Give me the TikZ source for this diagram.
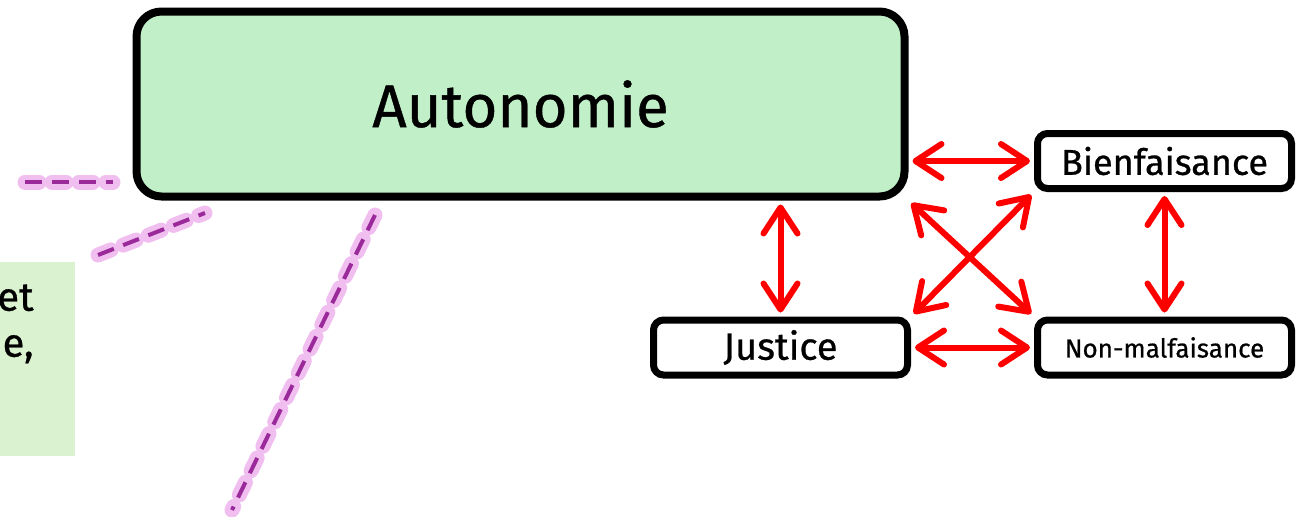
\documentclass[tikz,border=0pt]{standalone}
\usepackage{fontspec}
\setmainfont{Fira Sans}[FakeBold=0.7]
\usepackage{xcolor}
\usetikzlibrary{arrows.meta,positioning}
\definecolor{ethInk}{HTML}{000000}
\definecolor{ethGreen}{HTML}{C1F0C8}
\definecolor{ethPale}{HTML}{DAF2D0}
\definecolor{ethRed}{HTML}{FF0000}
\definecolor{ethPlum}{HTML}{9A2A9A}
\definecolor{ethGlow}{HTML}{E27FE2}
\tikzset{
  pbox/.style={rounded corners=5pt,draw=ethInk,line width=3.5pt,fill=white,
               align=center,minimum width=127pt,minimum height=27.5pt,inner sep=0pt},
  mainbox/.style={pbox,rounded corners=12.5pt,line width=4pt,fill=ethGreen,
               minimum width=384pt,minimum height=92.5pt,font=\fontsize{30}{34}\selectfont},
  link/.style={{Straight Barb[length=13pt,width=17pt,round]}-{Straight Barb[length=13pt,width=17pt,round]},
               draw=ethRed,line width=3pt,line cap=round,shorten <=2pt,shorten >=2pt},
  glow/.style={draw=ethGlow,opacity=0.5,line width=7.5pt,line cap=round,dash pattern=on 7pt off 6.5pt},
  trail/.style={draw=ethPlum,line width=2pt,dash pattern=on 8.5pt off 5pt},
}

\begin{document}
\begin{tikzpicture}[x=0.5pt,y=-0.5pt]
        \useasboundingbox (0,0) rectangle (1307,516);
        % cut-off note on the left
        \fill[ethPale] (0,262) rectangle (75,456);
        \node[anchor=north east,align=right,inner sep=0pt,font=\fontsize{20}{23}\selectfont] (note) at (34,284) {et\\e,};
        % dashed callout lines
        \foreach \a/\b in {{(25,182)}/{(113,182)},{(98,255)}/{(205,213)},{(375,215)}/{(232,510)}}{
          \draw[glow] \a -- \b;
          \draw[trail] \a -- \b;
        }
        \node[mainbox] (auto) at (520.5,104) {Autonomie};
        \node[pbox,font=\fontsize{18}{22}\selectfont] (bien) at (1164.5,161) {Bienfaisance};
        \node[pbox,font=\fontsize{19}{22}\selectfont] (just) at (780.5,347.5) {Justice};
        \node[pbox,font=\fontsize{13}{16}\selectfont] (nonm) at (1164.5,347.5) {Non-malfaisance};
        \draw[link] (auto.east |- bien.west) -- (bien.west);
        \draw[link] (just.north |- auto.south) -- (just.north);
        \draw[link] (bien.south) -- (nonm.north);
        \draw[link] (just.east) -- (nonm.west);
        \draw[link] (auto.south east) -- (nonm.north west);
        \draw[link] (bien.south west) -- (just.north east);
      \end{tikzpicture}
\end{document}
